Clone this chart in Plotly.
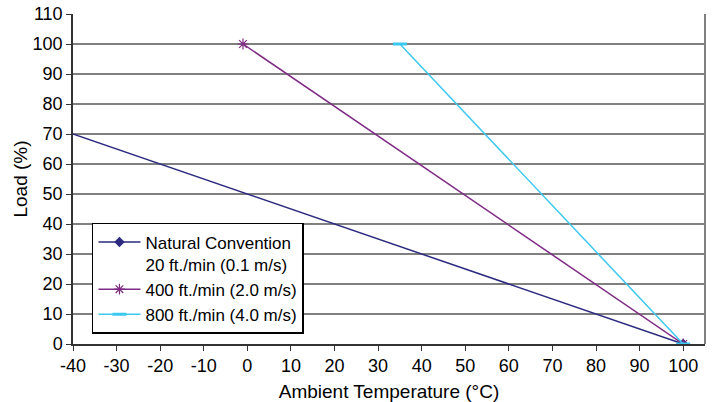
import plotly.graph_objects as go

nat_x = [-50, 100]
nat_y = [75, 0]
s400_x = [-1, 100]
s400_y = [100, 0]
s800_x = [35, 100]
s800_y = [100, 0]

x_ticks = list(range(-40, 101, 10))
x_labels = [str(v) for v in x_ticks]
y_ticks = list(range(0, 111, 10))

font = "Liberation Sans, Arial, sans-serif"

fig = go.Figure()
fig.add_trace(go.Scatter(x=nat_x, y=nat_y, mode="lines+markers",
                         name="Natural Convention<br>20 ft./min (0.1 m/s)",
                         line=dict(color="#2B2A7E", width=1.5),
                         marker=dict(symbol="diamond", size=8, color="#2B2A7E")))
fig.add_trace(go.Scatter(x=s400_x, y=s400_y, mode="lines+markers",
                         name="400 ft./min (2.0 m/s)",
                         line=dict(color="#7F2A84", width=1.5),
                         marker=dict(symbol="asterisk-open", size=9, color="#7F2A84",
                                     line=dict(color="#7F2A84", width=1.2))))
fig.add_trace(go.Scatter(x=s800_x, y=s800_y, mode="lines+markers",
                         name="800 ft./min (4.0 m/s)",
                         line=dict(color="#3DC8F0", width=1.5),
                         marker=dict(symbol="line-ew-open", size=10, color="#3DC8F0",
                                     line=dict(color="#3DC8F0", width=3))))

fig.update_layout(
    width=713, height=402,
    margin=dict(l=73, r=8, t=14, b=58),
    paper_bgcolor="white", plot_bgcolor="white",
    font=dict(family=font, size=18, color="black"),
    showlegend=True,
    legend=dict(x=0.03, y=0.367, xanchor="left", yanchor="top",
                bgcolor="white", bordercolor="black", borderwidth=1.5,
                font=dict(size=17), tracegroupgap=0, valign="top",
                itemwidth=42),
    xaxis=dict(range=[-40, 105], tickvals=x_ticks, ticktext=x_labels,
               ticks="outside", ticklen=5, ticklabeloverflow="allow",
               automargin=False,
               showgrid=False, zeroline=False, showline=True, linecolor="#333",
               linewidth=1.5, tickcolor="#333",
               title=dict(text="Ambient Temperature (°C)", font=dict(size=19), standoff=9),
               tickfont=dict(size=18)),
    yaxis=dict(range=[0, 110], tickvals=y_ticks, ticks="outside", ticklen=5,
               ticklabeloverflow="allow", automargin=False,
               showgrid=True, gridcolor="#808080", gridwidth=1.5, zeroline=False,
               showline=True, linecolor="#333", linewidth=1.5, tickcolor="#333",
               title=dict(text="Load (%)", font=dict(size=19), standoff=0),
               tickfont=dict(size=18)),
)
# right border of the plot area
fig.add_shape(type="line", xref="paper", yref="paper", x0=1, x1=1, y0=0, y1=1,
              line=dict(color="#808080", width=2))

fig.write_html("out.html", config={"displayModeBar": False},
               post_script="document.body.style.margin='0';document.body.style.overflow='hidden';")
